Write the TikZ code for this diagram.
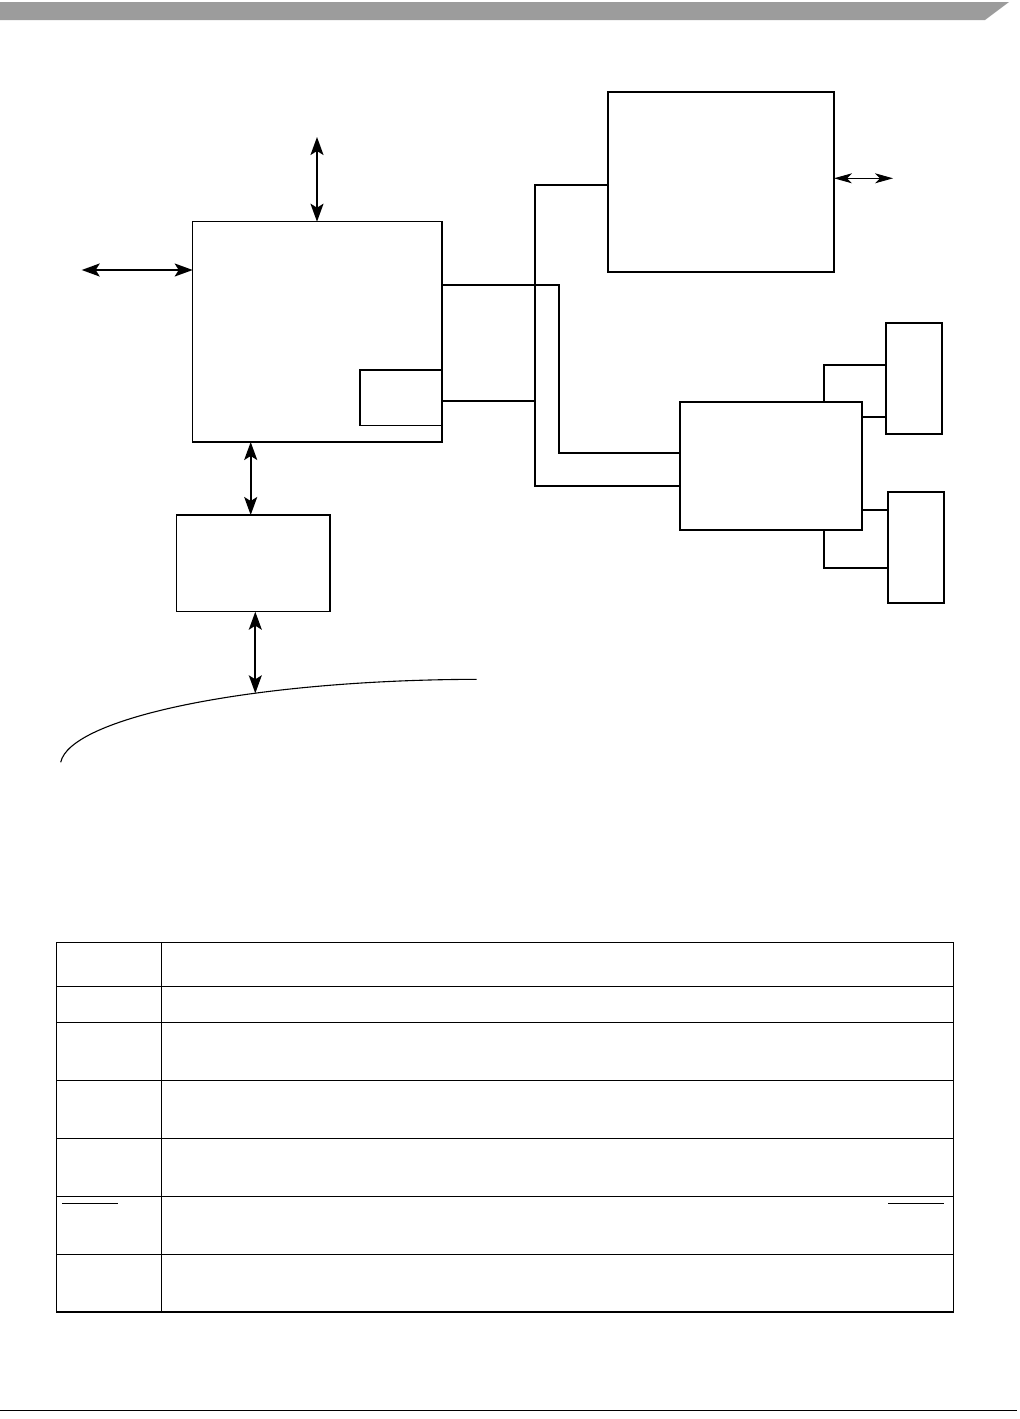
\documentclass[tikz,border=0pt]{standalone}
\usetikzlibrary{arrows.meta,calc}
\begin{document}
\begin{tikzpicture}[x=1pt,y=-1pt,
  blk/.style={draw=black,line width=1.4pt,rectangle,inner sep=0pt,outer sep=0pt,anchor=north west},
  rblk/.style={blk,line width=1.9pt},
  wire/.style={draw=black,line width=1.9pt},
  bigarrow/.style={draw=black,line width=1.8pt,{Stealth[length=18pt,width=13pt,inset=4pt]}-{Stealth[length=18pt,width=13pt,inset=4pt]}},
  smallarrow/.style={draw=black,line width=0.9pt,{Stealth[length=18pt,width=10pt,inset=5pt]}-{Stealth[length=18pt,width=10pt,inset=5pt]}},
  tbl/.style={draw=black,line width=1.4pt},
  bar/.style={draw=black,line width=1.1pt}]
\useasboundingbox (0,0) rectangle (1020,1419);
\fill[white] (0,0) rectangle (1020,1419);
% header and footer
\fill[gray!78] (0,2) -- (1009,2) -- (985,20) -- (0,20) -- cycle;
\draw[line width=1.5pt] (0,1410.5) -- (1017,1410.5);
% blocks
\node[blk,minimum width=249.3pt,minimum height=220.3pt] (main) at (192.7,221.7) {};
\node[blk,minimum width=82pt,minimum height=55.7pt] (inner) at (360,370) {};
\node[blk,minimum width=153.3pt,minimum height=96.7pt] (bot) at (176.7,515) {};
\node[rblk,minimum width=226pt,minimum height=179.7pt] (topr) at (608,92) {};
\node[rblk,minimum width=182pt,minimum height=127.7pt] (mid) at (680,402) {};
\node[rblk,minimum width=56pt,minimum height=111pt] (s1) at (886,323) {};
\node[rblk,minimum width=56.3pt,minimum height=111pt] (s2) at (887.7,492) {};
% arrows
\coordinate (ctop) at (317,137);
\draw[bigarrow] (ctop) -- (ctop |- main.north);
\coordinate (cleft) at (81.7,270);
\draw[bigarrow] (cleft) -- (cleft -| main.west);
\coordinate (cmb) at (250.7,0);
\draw[bigarrow] (cmb |- main.south) -- (cmb |- bot.north);
\coordinate (cbus) at (255.3,693.3);
\draw[bigarrow] (cbus |- bot.south) -- (cbus);
\coordinate (cr) at (893,178.3);
\draw[smallarrow] (cr -| topr.east) -- (cr);
% curve
\coordinate (cv1) at (60.7,762.3);
\coordinate (cv2) at (476.7,679.3);
\draw[line width=1.1pt] (cv1) .. controls (70,718) and (250,680) .. (cv2);
% bus wiring
\coordinate (w1) at (558.7,284.7);
\coordinate (w2) at (558.7,452.7);
\draw[wire] (w1 -| main.east) -- (w1) -- (w2) -- (w2 -| mid.west);
\coordinate (w3) at (535,401);
\draw[wire] (w3 -| main.east) -- (w3);
\coordinate (w4) at (535,185);
\coordinate (w5) at (535,485.7);
\draw[wire] (w4 -| topr.west) -- (w4) -- (w5) -- (w5 -| mid.west);
% mid to small boxes
\coordinate (m1) at (823.7,365);
\draw[wire] (m1 |- mid.north) -- (m1) -- (m1 -| s1.west);
\coordinate (m2) at (862,417);
\draw[wire] (m2 -| mid.east) -- (m2 -| s1.west);
\coordinate (m3) at (862,510);
\draw[wire] (m3 -| mid.east) -- (m3 -| s2.west);
\coordinate (m4) at (823.7,567.7);
\draw[wire] (m4 |- mid.south) -- (m4) -- (m4 -| s2.west);
% table
\draw[tbl] (56.3,942.3) rectangle (953.3,1312);
\draw[tbl] (161.3,942.3) -- (161.3,1312);
\foreach \yy in {986.3,1022.3,1080.3,1138.3,1196.3,1254.3}
  \draw[tbl] (56.3,\yy) -- (953.3,\yy);
\draw[bar] (62.3,1203.3) -- (117.7,1203.3);
\draw[bar] (888.3,1203.3) -- (944,1203.3);
\end{tikzpicture}
\end{document}
